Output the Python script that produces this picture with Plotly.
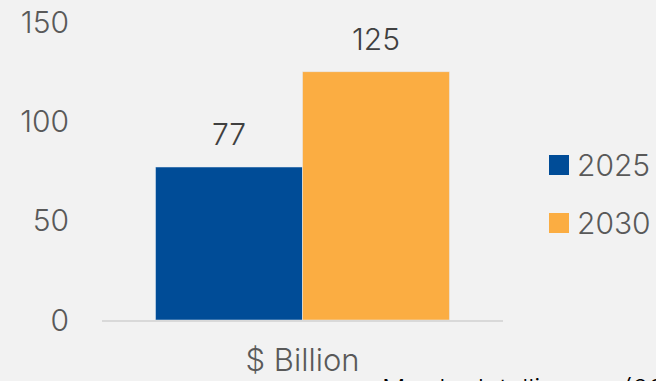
import plotly.graph_objects as go

categories = ["$ Billion"]
years = ["2025", "2030"]
values_2025 = [77]
values_2030 = [125]
colors = ["#004C97", "#FBAD42"]
y_ticks = [0, 50, 100, 150]
source_text = "Mordor Intelligence (2025)"

font_family = "Inter, Lato, sans-serif"
FW = 300
series = [values_2025, values_2030]

fig = go.Figure()
for name, vals, col in zip(years, series, colors):
    fig.add_trace(go.Bar(
        x=categories, y=vals, name=name, marker_color=col,
        showlegend=False,
    ))

# value labels above bars
offsets = [-73.5, 73.5]
annotations = []
for vals, dx in zip(series, offsets):
    for c, v in zip(categories, vals):
        annotations.append(dict(
            x=c, y=v, xref="x", yref="y", xshift=dx, yshift=13,
            text=str(v), showarrow=False, yanchor="bottom",
            font=dict(size=30, color="#404040", family=font_family, weight=FW),
        ))

# legend drawn manually
shapes = []
leg_y = [165, 223]
for name, col, cy in zip(years, colors, leg_y):
    y0 = 1 - (cy - 10 - 22) / 298
    y1 = 1 - (cy + 10 - 22) / 298
    shapes.append(dict(type="rect", xref="paper", yref="paper",
                       x0=(549 - 102) / 401, x1=(569 - 102) / 401,
                       y0=y1, y1=y0, fillcolor=col, line=dict(width=0)))
    annotations.append(dict(
        text=name, xref="paper", yref="paper",
        x=(575 - 102) / 401, y=1 - (cy - 22) / 298,
        xanchor="left", yanchor="middle", showarrow=False,
        font=dict(size=30, color="#595959", family=font_family, weight=FW),
    ))

annotations.append(dict(
    text=source_text, xref="paper", yref="paper",
    x=(380 - 102) / 401, y=-51 / 298, xanchor="left", yanchor="top",
    showarrow=False, font=dict(size=26, color="#000000", family=font_family, weight=FW),
))

fig.update_layout(
    width=656, height=381,
    margin=dict(l=102, r=153, t=22, b=61, autoexpand=False),
    paper_bgcolor="#F2F2F2", plot_bgcolor="#F2F2F2",
    barmode="group", bargap=0.267, bargroupgap=0,
    font=dict(family=font_family, size=30, color="#595959", weight=FW),
    showlegend=False,
    yaxis=dict(range=[0, 150], tickvals=y_ticks, showgrid=False,
               zeroline=False, showline=False, ticklabelstandoff=32,
               automargin=False,
               tickfont=dict(size=30, color="#595959", family=font_family, weight=FW)),
    xaxis=dict(showline=True, linecolor="#D9D9D9", linewidth=2,
               ticks="", ticklabelstandoff=12, automargin=False,
               tickfont=dict(size=31, color="#595959", family=font_family, weight=FW)),
    shapes=shapes,
    annotations=annotations,
)

fig.write_html("out.html")
